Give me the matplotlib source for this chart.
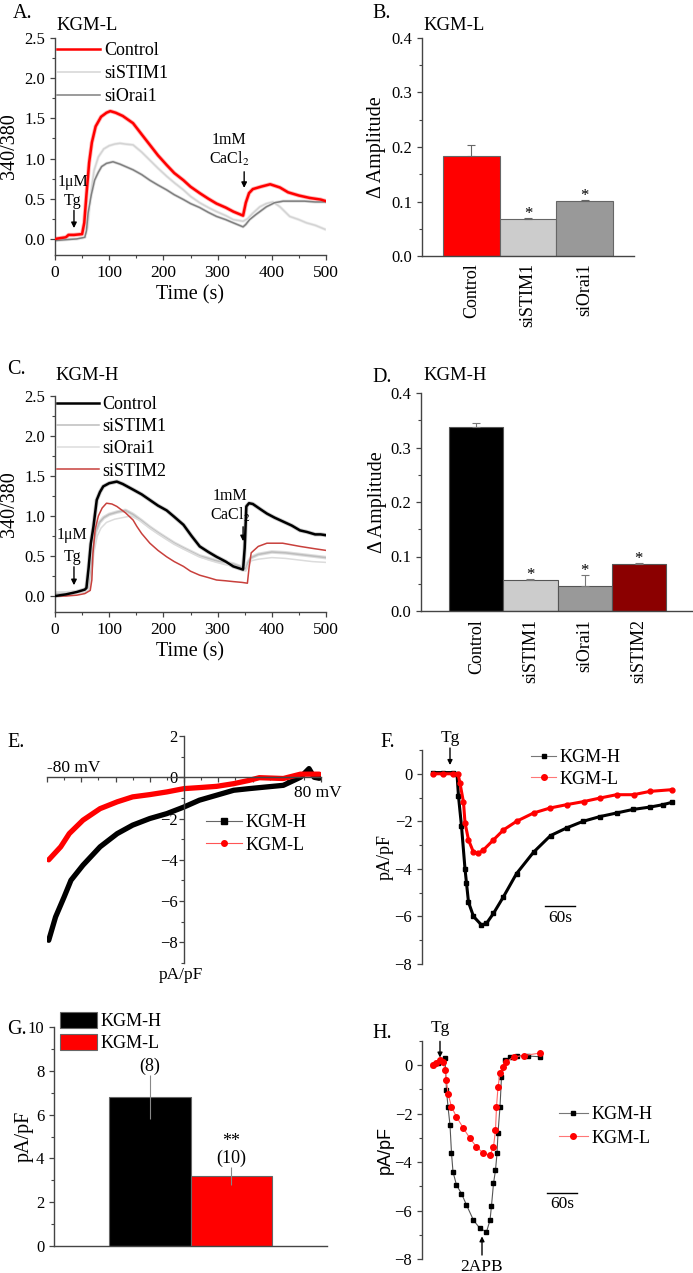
"""
Store-operated Ca2+ entry figure: Fura-2 ratio traces (A, C), peak amplitude
bars (B, D), I-V curves (E), current time courses (F, H) and summary bars (G).
"""

import numpy as np
import matplotlib
matplotlib.use("Agg")
import matplotlib.pyplot as plt
from matplotlib.lines import Line2D
from matplotlib.ticker import MultipleLocator

plt.rcParams['font.family'] = 'Liberation Serif'
plt.rcParams['mathtext.fontset'] = 'stix'

# ---------------- data ----------------
# A: KGM-L fura-2 ratio
a_t_ctrl = [0, 10, 20, 25, 35, 50, 54, 58, 63, 68, 75, 85, 95, 102, 112, 125, 144, 160, 175, 190,
            206, 220, 237, 250, 267, 283, 298, 315, 329, 347, 352, 358, 365, 380, 397, 415, 430, 450,
            470, 490, 500]
a_y_ctrl = [0.0, 0.01, 0.02, 0.05, 0.05, 0.06, 0.2, 0.55, 0.95, 1.2, 1.40, 1.52, 1.57, 1.59, 1.57,
            1.53, 1.44, 1.30, 1.17, 1.04, 0.92, 0.82, 0.73, 0.65, 0.57, 0.50, 0.44, 0.39, 0.34, 0.29,
            0.45, 0.57, 0.62, 0.65, 0.68, 0.64, 0.58, 0.54, 0.51, 0.49, 0.47]
a_t_stim = [0, 20, 40, 55, 60, 65, 72, 80, 90, 100, 110, 120, 130, 144, 160, 175, 190, 206, 220, 237,
            250, 267, 283, 298, 315, 329, 347, 355, 365, 378, 390, 402, 415, 433, 450, 464, 480, 498]
a_y_stim = [0.0, 0.0, 0.0, 0.02, 0.15, 0.5, 0.85, 1.02, 1.12, 1.16, 1.18, 1.19, 1.18, 1.17, 1.08,
            0.98, 0.88, 0.78, 0.70, 0.61, 0.53, 0.45, 0.39, 0.34, 0.29, 0.24, 0.22, 0.25, 0.32, 0.40,
            0.44, 0.46, 0.40, 0.28, 0.24, 0.20, 0.17, 0.12]
a_t_orai = [0, 20, 40, 55, 58, 61, 67, 73, 80, 86, 95, 107, 120, 144, 160, 175, 190, 206, 220, 237,
            250, 267, 283, 298, 315, 329, 347, 352, 359, 370, 390, 405, 421, 440, 460, 480, 500]
a_y_orai = [-0.02, -0.01, 0.0, 0.02, 0.1, 0.32, 0.55, 0.73, 0.83, 0.9, 0.94, 0.96, 0.93, 0.86, 0.80,
            0.73, 0.67, 0.61, 0.55, 0.49, 0.44, 0.39, 0.33, 0.28, 0.24, 0.20, 0.15, 0.18, 0.24, 0.30,
            0.40, 0.45, 0.47, 0.47, 0.47, 0.46, 0.46]

# B: KGM-L amplitude
b_labels = ['Control', 'siSTIM1', 'siOrai1']
b_vals = [0.183, 0.067, 0.101]
b_err = [0.020, 0.002, 0.002]
b_sig = ['', '*', '*']
b_colors = ['#ff0000', '#cccccc', '#999999']

# C: KGM-H fura-2 ratio
c_t_ctrl = [0, 20, 40, 50, 55, 58, 62, 66, 71, 77, 83, 89, 100, 114, 125, 144, 160, 175, 190, 206,
            220, 237, 252, 267, 283, 298, 315, 329, 347, 350, 353, 358, 365, 380, 391, 405, 421, 437,
            452, 465, 480, 490, 500]
c_y_ctrl = [0.0, 0.02, 0.05, 0.07, 0.08, 0.1, 0.35, 0.65, 0.87, 1.2, 1.3, 1.37, 1.41, 1.43, 1.40,
            1.33, 1.27, 1.2, 1.13, 1.07, 0.99, 0.89, 0.75, 0.62, 0.55, 0.49, 0.43, 0.37, 0.33, 0.6,
            1.12, 1.16, 1.15, 1.08, 1.03, 0.98, 0.93, 0.88, 0.82, 0.80, 0.77, 0.77, 0.76]
c_t_stim1 = [0, 20, 40, 55, 62, 66, 70, 75, 82, 90, 100, 115, 130, 144, 160, 175, 190, 206, 220, 237,
             252, 267, 283, 298, 315, 329, 345, 352, 356, 362, 375, 400, 425, 450, 475, 500]
c_y_stim1 = [0.03, 0.04, 0.05, 0.06, 0.1, 0.3, 0.6, 0.8, 0.92, 0.98, 1.02, 1.05, 1.07, 1.02, 0.94,
             0.86, 0.79, 0.72, 0.66, 0.6, 0.55, 0.5, 0.47, 0.44, 0.42, 0.40, 0.36, 0.34, 0.42, 0.48,
             0.52, 0.55, 0.54, 0.52, 0.5, 0.48]
c_t_orai = [0, 20, 40, 55, 64, 68, 72, 78, 85, 95, 110, 125, 140, 155, 175, 190, 206, 220, 237, 252,
            267, 283, 298, 315, 329, 345, 352, 356, 362, 375, 400, 425, 450, 475, 500]
c_y_orai = [0.05, 0.05, 0.06, 0.06, 0.1, 0.3, 0.55, 0.75, 0.85, 0.92, 0.96, 0.98, 1.0, 0.95, 0.85,
            0.78, 0.71, 0.65, 0.59, 0.54, 0.49, 0.45, 0.42, 0.39, 0.37, 0.33, 0.31, 0.38, 0.44, 0.46,
            0.48, 0.47, 0.45, 0.43, 0.42]
c_t_stim2 = [0, 20, 40, 55, 65, 68, 70, 74, 80, 87, 95, 105, 114, 130, 144, 151, 160, 175, 190, 206,
             220, 237, 250, 267, 283, 298, 315, 329, 345, 355, 358, 362, 375, 391, 420, 452, 480, 500]
c_y_stim2 = [0.0, 0.0, 0.01, 0.03, 0.07, 0.2, 0.53, 0.83, 1.0, 1.1, 1.16, 1.15, 1.12, 1.04, 0.95,
             0.87, 0.78, 0.66, 0.57, 0.49, 0.43, 0.37, 0.31, 0.26, 0.23, 0.20, 0.19, 0.18, 0.17, 0.16,
             0.35, 0.54, 0.62, 0.66, 0.66, 0.62, 0.59, 0.57]

# D: KGM-H amplitude
d_labels = ['Control', 'siSTIM1', 'siOrai1', 'siSTIM2']
d_vals = [0.338, 0.057, 0.045, 0.086]
d_err = [0.007, 0.002, 0.021, 0.002]
d_sig = ['', '*', '*', '*']
d_colors = ['#000000', '#cccccc', '#999999', '#8b0000']

# E: I-V relation (mV, pA/pF)
e_v_h = [-79, -75, -70, -66, -59, -49, -39, -30, -20, -10, 0, 9, 19, 29, 38, 48, 58, 68, 73, 76, 79]
e_i_h = [-7.9, -6.77, -5.8, -4.99, -4.26, -3.37, -2.73, -2.32, -2.0, -1.76, -1.44, -1.11, -0.87,
         -0.63, -0.55, -0.47, -0.39, 0.0, 0.42, 0.0, -0.05]
e_v_l = [-79, -72, -67, -59, -49, -39, -30, -20, -10, 0, 9, 19, 29, 38, 44, 58, 68, 79]
e_i_l = [-4.0, -3.37, -2.73, -2.08, -1.52, -1.19, -0.95, -0.84, -0.71, -0.55, -0.50, -0.44, -0.31,
         -0.15, -0.02, -0.06, 0.15, 0.15]

# F: current time course (s, pA/pF)
f_t_h = [0, 20, 40, 48, 51, 57, 64, 67, 71, 81, 97, 107, 121, 141, 167, 201, 235, 267, 300, 334,
         367, 400, 434, 460, 478]
f_i_h = [0.05, 0.05, 0.05, 0.0, -0.95, -2.2, -4.0, -4.6, -5.4, -6.0, -6.36, -6.29, -5.87, -5.17,
         -4.2, -3.3, -2.6, -2.28, -2.0, -1.8, -1.65, -1.5, -1.4, -1.3, -1.2]
f_t_l = [0, 20, 40, 50, 54, 61, 64, 71, 81, 91, 101, 121, 141, 167, 201, 234, 267, 301, 334, 367,
         401, 434, 477]
f_i_l = [0.0, 0.0, 0.0, 0.0, -0.4, -1.2, -2.06, -2.78, -3.3, -3.35, -3.2, -2.78, -2.36, -2.0, -1.65,
         -1.44, -1.3, -1.17, -1.02, -0.88, -0.88, -0.74, -0.67]

# G: summary current density
g_labels = ['KGM-H', 'KGM-L']
g_vals = [6.8, 3.2]
g_err = [1.0, 0.4]
g_n = ['(8)', '(10)']
g_sig = ['', '**']
g_colors = ['#000000', '#ff0000']

# H: current time course with 2APB
h_t_h = [0, 10, 20, 24, 27, 30, 34, 37, 40, 47, 57, 67, 81, 94, 107, 114, 117, 121, 125, 128, 130,
         134, 137, 144, 154, 167, 190, 214]
h_i_h = [0.0, 0.1, 0.2, 0.3, -1.03, -1.72, -2.47, -3.63, -4.4, -4.95, -5.3, -5.77, -6.4, -6.74,
         -6.88, -6.4, -5.8, -4.88, -4.33, -3.64, -2.8, -1.72, -0.48, 0.2, 0.34, 0.4, 0.38, 0.35]
h_t_l = [0, 7, 14, 20, 24, 27, 30, 37, 47, 61, 74, 87, 101, 114, 121, 125, 127, 130, 134, 140, 147,
         161, 181, 214]
h_i_l = [0.0, 0.1, 0.2, 0.15, -0.2, -0.62, -1.17, -1.72, -2.13, -2.61, -3.02, -3.37, -3.64, -3.71,
         -3.37, -2.68, -1.72, -0.9, -0.34, -0.07, 0.14, 0.34, 0.4, 0.5]

scale_bar_s = 60

# ---------------- layout helpers (pixel boxes of the 693x1273 page) ----------------
W, H = 693, 1273


def rect(x0, y0, x1, y1):
    return [x0 / W, 1 - y1 / H, (x1 - x0) / W, (y1 - y0) / H]


def fx(px):
    return px / W


def fy(py):
    return 1 - py / H


AX_COL = '#444444'


def style(ax, spines=('left', 'bottom')):
    for s in ['top', 'right', 'left', 'bottom']:
        ax.spines[s].set_visible(s in spines)
        ax.spines[s].set_color(AX_COL)
        ax.spines[s].set_linewidth(1.0)
    ax.tick_params(which='major', length=3.5, width=0.9, color=AX_COL, labelsize=12, direction='out')
    ax.tick_params(which='minor', length=2, width=0.8, color=AX_COL, direction='out')
    ax.patch.set_alpha(0)


def ylab(ax, text, px, size=14.5, family=None):
    box = ax.get_position()
    xa = (fx(px) - box.x0) / box.width
    ax.set_ylabel(text, fontsize=size, va='center', family=family)
    ax.yaxis.set_label_coords(xa, 0.5)


fig = plt.figure(figsize=(W / 100, H / 100), dpi=100)

leg_kw = dict(loc='upper left', bbox_transform=fig.transFigure, frameon=False, fontsize=13,
              borderpad=0, borderaxespad=0, handletextpad=0.2)

# ---------------- A ----------------
axA = fig.add_axes(rect(55, 38, 326, 255))
style(axA)
axA.plot(a_t_orai, a_y_orai, color='#bbbbbb', lw=2.2, alpha=0.5, zorder=1)
axA.plot(a_t_stim, a_y_stim, color='#eeeeee', lw=2.2, zorder=1)
axA.plot(a_t_ctrl, a_y_ctrl, color='#ffb4b4', lw=3.0, zorder=2)
lA1, = axA.plot(a_t_ctrl, a_y_ctrl, color='#ff0000', lw=1.8, label='Control', zorder=3)
lA2, = axA.plot(a_t_stim, a_y_stim, color='#d4d4d4', lw=1.1, label='siSTIM1', zorder=2)
lA3, = axA.plot(a_t_orai, a_y_orai, color='#808080', lw=1.1, label='siOrai1', zorder=2)
axA.set_xlim(0, 500)
axA.set_ylim(-0.2, 2.5)
axA.set_yticks(np.arange(0, 2.51, 0.5))
axA.set_yticklabels([f'{v:.1f}' for v in np.arange(0, 2.51, 0.5)])
axA.yaxis.set_minor_locator(MultipleLocator(0.25))
axA.xaxis.set_major_locator(MultipleLocator(100))
axA.xaxis.set_minor_locator(MultipleLocator(50))
axA.tick_params(axis='x', labelsize=12.5)
axA.set_xlabel('Time (s)', fontsize=14.5, labelpad=3)
ylab(axA, '340/380', 9)
axA.legend(handles=[lA1, lA2, lA3], bbox_to_anchor=(fx(57), fy(42)), handlelength=2.4,
           labelspacing=0.34, **leg_kw)
axA.text(33, 0.71, '1μM', ha='center', va='center', fontsize=11.5)
axA.text(33, 0.47, 'Tg', ha='center', va='center', fontsize=11.5)
axA.annotate('', xy=(35, 0.1), xytext=(35, 0.39),
             arrowprops=dict(arrowstyle='-|>', color='k', lw=1, mutation_scale=8))
axA.text(321, 1.23, '1mM', ha='center', va='center', fontsize=11.5)
axA.text(321, 1.0, 'CaCl$_2$', ha='center', va='center', fontsize=11.5)
axA.annotate('', xy=(349, 0.6), xytext=(349, 0.87),
             arrowprops=dict(arrowstyle='-|>', color='k', lw=1, mutation_scale=8))
fig.text(fx(13), fy(13), 'A.', fontsize=14.5, va='center')
fig.text(fx(56), fy(25), 'KGM-L', fontsize=13.5, va='center')

# ---------------- B ----------------
axB = fig.add_axes(rect(422, 38, 634, 256))
style(axB)
b_x = np.arange(1, len(b_labels) + 1)
axB.bar(b_x, b_vals, width=1.0, color=b_colors, edgecolor='#666666', lw=0.8)
axB.errorbar(b_x, b_vals, yerr=[np.zeros(len(b_vals)), b_err], fmt='none', ecolor='#666666',
             elinewidth=0.8, capsize=3, capthick=0.8)
for x, v, e, s in zip(b_x, b_vals, b_err, b_sig):
    axB.text(x, v + e, s, ha='center', va='baseline', fontsize=12)
axB.set_xlim(0.13, 3.87)
axB.set_ylim(0, 0.4)
axB.set_yticks(np.arange(0, 0.41, 0.1))
axB.set_yticklabels([f'{v:.1f}' for v in np.arange(0, 0.41, 0.1)])
axB.yaxis.set_minor_locator(MultipleLocator(0.05))
axB.set_xticks(b_x)
axB.set_xticklabels(b_labels, rotation=90, fontsize=13)
axB.tick_params(axis='x', length=0, pad=5)
ylab(axB, 'Δ Amplitude', 377)
fig.text(fx(372), fy(13), 'B.', fontsize=14.5, va='center')
fig.text(fx(423), fy(25), 'KGM-L', fontsize=13.5, va='center')

# ---------------- C ----------------
axC = fig.add_axes(rect(55, 396, 326, 612))
style(axC)
axC.plot(c_t_ctrl, c_y_ctrl, color='#999999', lw=3.0, alpha=0.5, zorder=1)
axC.plot(c_t_stim1, c_y_stim1, color='#dddddd', lw=2.6, zorder=1)
lC2, = axC.plot(c_t_stim1, c_y_stim1, color='#bdbdbd', lw=1.1, label='siSTIM1', zorder=2)
lC3, = axC.plot(c_t_orai, c_y_orai, color='#dcdcdc', lw=1.1, label='siOrai1', zorder=2)
lC4, = axC.plot(c_t_stim2, c_y_stim2, color='#c8403c', lw=1.1, label='siSTIM2', zorder=3)
lC1, = axC.plot(c_t_ctrl, c_y_ctrl, color='#000000', lw=1.8, label='Control', zorder=4)
axC.set_xlim(0, 500)
axC.set_ylim(-0.2, 2.5)
axC.set_yticks(np.arange(0, 2.51, 0.5))
axC.set_yticklabels([f'{v:.1f}' for v in np.arange(0, 2.51, 0.5)])
axC.yaxis.set_minor_locator(MultipleLocator(0.25))
axC.xaxis.set_major_locator(MultipleLocator(100))
axC.xaxis.set_minor_locator(MultipleLocator(50))
axC.tick_params(axis='x', labelsize=12.5)
axC.set_xlabel('Time (s)', fontsize=14.5, labelpad=3)
ylab(axC, '340/380', 9)
axC.legend(handles=[lC1, lC2, lC3, lC4], bbox_to_anchor=(fx(57), fy(396)), handlelength=2.3,
           labelspacing=0.29, **leg_kw)
axC.text(32, 0.76, '1μM', ha='center', va='center', fontsize=11.5)
axC.text(32, 0.49, 'Tg', ha='center', va='center', fontsize=11.5)
axC.annotate('', xy=(35, 0.1), xytext=(35, 0.4),
             arrowprops=dict(arrowstyle='-|>', color='k', lw=1, mutation_scale=8))
axC.text(323, 1.25, '1mM', ha='center', va='center', fontsize=11.5)
axC.text(323, 1.01, 'CaCl$_2$', ha='center', va='center', fontsize=11.5)
axC.annotate('', xy=(347, 0.65), xytext=(347, 0.9),
             arrowprops=dict(arrowstyle='-|>', color='k', lw=1, mutation_scale=8))
fig.text(fx(7), fy(370), 'C.', fontsize=14.5, va='center')
fig.text(fx(55), fy(376), 'KGM-H', fontsize=13.5, va='center')

# ---------------- D ----------------
axD = fig.add_axes(rect(421, 393, 693, 611))
style(axD)
d_x = np.arange(1, len(d_labels) + 1)
axD.bar(d_x, d_vals, width=1.0, color=d_colors, edgecolor='#555555', lw=0.8)
axD.errorbar(d_x, d_vals, yerr=[np.zeros(len(d_vals)), d_err], fmt='none', ecolor='#777777',
             elinewidth=0.8, capsize=3, capthick=0.8)
for x, v, e, s in zip(d_x, d_vals, d_err, d_sig):
    axD.text(x, v + e, s, ha='center', va='baseline', fontsize=12)
axD.set_xlim(-0.02, 5.0)
axD.set_ylim(0, 0.4)
axD.set_yticks(np.arange(0, 0.41, 0.1))
axD.set_yticklabels([f'{v:.1f}' for v in np.arange(0, 0.41, 0.1)])
axD.yaxis.set_minor_locator(MultipleLocator(0.05))
axD.set_xticks(d_x)
axD.set_xticklabels(d_labels, rotation=90, fontsize=13)
axD.tick_params(axis='x', length=0, pad=6)
ylab(axD, 'Δ Amplitude', 377)
fig.text(fx(372), fy(377), 'D.', fontsize=14.5, va='center')
fig.text(fx(423), fy(376), 'KGM-H', fontsize=13.5, va='center')

# ---------------- E ----------------
axE = fig.add_axes(rect(47, 736, 321, 963))
style(axE)
axE.spines['left'].set_position(('data', 0))
axE.spines['bottom'].set_position(('data', 0))
axE.plot(e_v_h, e_i_h, color='#000000', lw=3.8, solid_capstyle='round')
axE.plot(e_v_l, e_i_l, color='#ff0000', lw=3.8, solid_capstyle='round')
axE.set_xlim(-80, 80)
axE.set_ylim(-9, 2)
axE.xaxis.set_major_locator(MultipleLocator(20))
axE.xaxis.set_minor_locator(MultipleLocator(10))
axE.tick_params(axis='x', labelbottom=False)
axE.set_yticks([-8, -6, -4, -2, 0, 2])
axE.yaxis.set_minor_locator(MultipleLocator(1))
axE.tick_params(axis='y', pad=1)
axE.text(-80, 0.45, '-80 mV', ha='left', va='center', fontsize=12.5)
axE.text(78, -0.75, '80 mV', ha='center', va='center', fontsize=12.5)
axE.text(-2, -9.6, 'pA/pF', ha='center', va='center', fontsize=12.5, clip_on=False)
hE = [Line2D([], [], color='#666666', lw=0.8, marker='s', ms=4, mfc='k', mec='k', label='KGM-H'),
      Line2D([], [], color='#ff5555', lw=0.8, marker='o', ms=4, mfc='#ff0000', mec='#ff0000',
             label='KGM-L')]
axE.legend(handles=hE, bbox_to_anchor=(fx(206), fy(814)), handlelength=2.0, labelspacing=0.31,
           **leg_kw)
fig.text(fx(7), fy(743), 'E.', fontsize=14.5, va='center')

# ---------------- F ----------------
axF = fig.add_axes(rect(422, 750, 690, 964))
style(axF, spines=('left',))
axF.plot(f_t_h, f_i_h, color='#000000', lw=2.2, marker='s', ms=3)
axF.plot(f_t_l, f_i_l, color='#ff0000', lw=2.2, marker='o', ms=3.5)
axF.set_xlim(-22, 514)
axF.set_ylim(-8, 1)
axF.set_xticks([])
axF.set_yticks([-8, -6, -4, -2, 0])
axF.yaxis.set_minor_locator(MultipleLocator(1))
ylab(axF, 'pA/pF', 385, size=13)
axF.text(34, 1.5, 'Tg', ha='center', va='center', fontsize=12.5, clip_on=False)
axF.annotate('', xy=(34, 0.25), xytext=(34, 1.2),
             arrowprops=dict(arrowstyle='-|>', color='k', lw=1, mutation_scale=7),
             annotation_clip=False)
axF.plot([224, 224 + scale_bar_s], [-5.56, -5.56], color='k', lw=1)
axF.text(224 + scale_bar_s / 2, -6.05, f'{scale_bar_s}s', ha='center', va='center', fontsize=12.5)
hF = [Line2D([], [], color='#777777', lw=0.8, marker='s', ms=3.5, mfc='k', mec='k', label='KGM-H'),
      Line2D([], [], color='#ff7777', lw=0.8, marker='o', ms=4, mfc='#ff0000', mec='#ff0000',
             label='KGM-L')]
axF.legend(handles=hF, bbox_to_anchor=(fx(531), fy(749)), handlelength=1.4, labelspacing=0.25,
           **leg_kw)
fig.text(fx(380), fy(743), 'F.', fontsize=14.5, va='center')

# ---------------- G ----------------
axG = fig.add_axes(rect(54, 1027, 327, 1246))
style(axG)
g_x = np.arange(1, len(g_labels) + 1)
bars = axG.bar(g_x, g_vals, width=1.0, color=g_colors, edgecolor='#666666', lw=0.8)
axG.errorbar(g_x, g_vals, yerr=g_err, fmt='none', ecolor='#888888', elinewidth=0.8, capsize=0)
for x, v, e, n, s in zip(g_x, g_vals, g_err, g_n, g_sig):
    axG.text(x, v + e + 0.4, n, ha='center', va='center', fontsize=13)
    if s:
        axG.text(x, v + e + 1.15, s, ha='center', va='center', fontsize=13)
axG.set_xlim(-0.17, 3.17)
axG.set_ylim(0, 10)
axG.set_xticks([])
axG.set_yticks(np.arange(0, 11, 2))
axG.yaxis.set_minor_locator(MultipleLocator(1))
ylab(axG, 'pA/pF', 24, size=14.5)
axG.legend(bars, g_labels, bbox_to_anchor=(fx(60), fy(1012)), handlelength=2.05, handleheight=1.0,
           labelspacing=0.22, **leg_kw)
fig.text(fx(7), fy(1030), 'G.', fontsize=14.5, va='center')

# ---------------- H ----------------
axH = fig.add_axes(rect(422, 1041, 690, 1259))
style(axH, spines=('left',))
axH.plot(h_t_h, h_i_h, color='#555555', lw=0.8, marker='s', ms=3.5, mfc='k', mec='k')
axH.plot(h_t_l, h_i_l, color='#ff6666', lw=0.8, marker='o', ms=4, mfc='#ff0000', mec='#ff0000')
axH.set_xlim(-22, 514)
axH.set_ylim(-8, 1)
axH.set_xticks([])
axH.set_yticks([-8, -6, -4, -2, 0])
axH.yaxis.set_minor_locator(MultipleLocator(1))
ylab(axH, 'pA/pF', 385, size=13, family='Liberation Sans')
axH.text(14, 1.55, 'Tg', ha='center', va='center', fontsize=12.5, clip_on=False)
axH.annotate('', xy=(14, 0.2), xytext=(14, 1.1),
             arrowprops=dict(arrowstyle='-|>', color='k', lw=1, mutation_scale=7),
             annotation_clip=False)
axH.text(98, -8.35, '2APB', ha='center', va='center', fontsize=12.5, clip_on=False)
axH.annotate('', xy=(98, -6.95), xytext=(98, -7.95),
             arrowprops=dict(arrowstyle='-|>', color='k', lw=1, mutation_scale=7),
             annotation_clip=False)
axH.plot([228, 228 + scale_bar_s], [-5.28, -5.28], color='k', lw=1)
axH.text(228 + scale_bar_s / 2, -5.72, f'{scale_bar_s}s', ha='center', va='center', fontsize=12.5)
hH = [Line2D([], [], color='#777777', lw=0.8, marker='s', ms=3.5, mfc='k', mec='k', label='KGM-H'),
      Line2D([], [], color='#ff7777', lw=0.8, marker='o', ms=4, mfc='#ff0000', mec='#ff0000',
             label='KGM-L')]
axH.legend(handles=hH, bbox_to_anchor=(fx(559), fy(1106)), handlelength=1.6, labelspacing=0.37,
           **leg_kw)
fig.text(fx(372), fy(1033), 'H.', fontsize=14.5, va='center')

fig.savefig('out.png', dpi=100)
